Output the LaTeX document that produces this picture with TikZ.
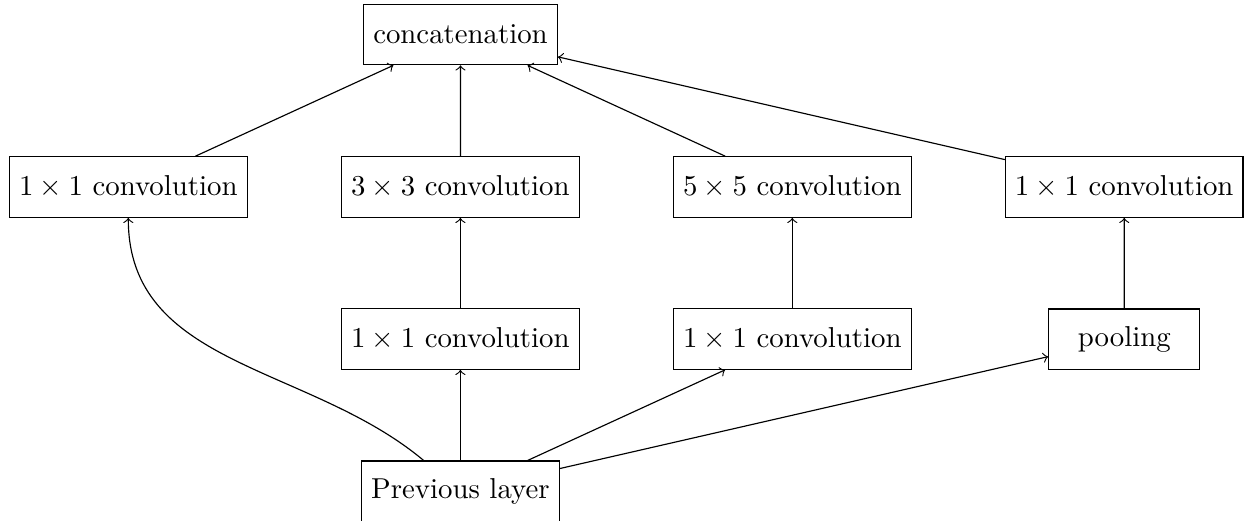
\documentclass[tikz,border=0pt]{standalone}
\begin{document}
\begin{tikzpicture}[x=0.34722pt, y=-0.34722pt, >=to,
  box/.style={draw, minimum height=21pt, inner sep=3.33pt},
  edge/.style={->}]
\useasboundingbox (0,0) rectangle (1256,520);
\node[box] (cat) at (460.5,34.5) {concatenation};
\node[box] (c1) at (128.3,187) {$1\times 1$ convolution};
\node[box] (c3) at (460.4,187) {$3\times 3$ convolution};
\node[box] (c5) at (792.3,187) {$5\times 5$ convolution};
\node[box] (c1r) at (1124.2,187) {$1\times 1$ convolution};
\node[box] (m1) at (460.4,339) {$1\times 1$ convolution};
\node[box] (m2) at (792.3,339) {$1\times 1$ convolution};
\node[box, minimum width=52.5pt] (pool) at (1124.3,339.2) {pooling};
\node[box] (prev) at (460.4,491.3) {Previous layer};
\draw[edge] (c1) -- (cat);
\draw[edge] (c3) -- (cat);
\draw[edge] (c5) -- (cat);
\draw[edge] (c1r) -- (cat);
\draw[edge] (m1) -- (c3);
\draw[edge] (m2) -- (c5);
\draw[edge] (pool) -- (c1r);
\draw[edge] (prev) to[out=140, in=-90] (c1);
\draw[edge] (prev) -- (m1);
\draw[edge] (prev) -- (m2);
\draw[edge] (prev) -- (pool);
\end{tikzpicture}
\end{document}
